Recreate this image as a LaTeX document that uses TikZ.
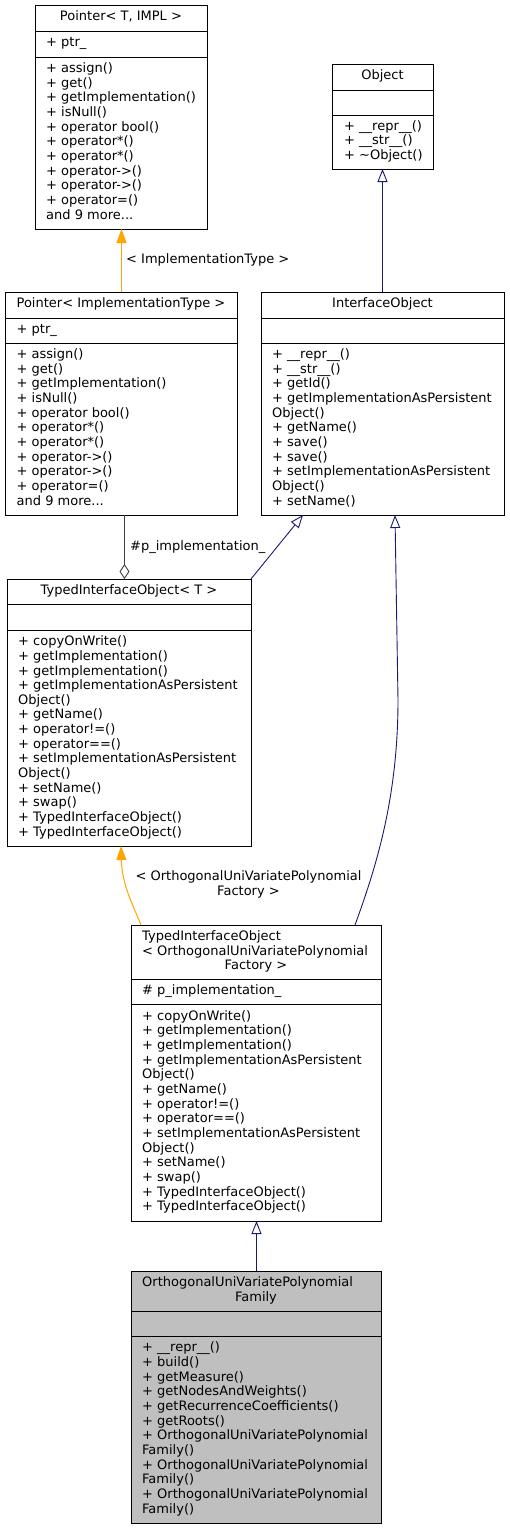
\documentclass[tikz,border=0pt]{standalone}
\usepackage{fontspec}
\setmainfont{DejaVu Sans}
\usetikzlibrary{arrows.meta}
\definecolor{edgeblue}{HTML}{191970}
\definecolor{edgeorange}{HTML}{FFA500}
\definecolor{edgegrey}{HTML}{404040}
\definecolor{boxgrey}{HTML}{BFBFBF}
\begin{document}
\begin{tikzpicture}[x=1pt,y=-1pt,
  box/.style={draw=black, line width=0.9pt, fill=white, rectangle, inner sep=0pt, outer sep=0pt, anchor=north west},
  sep/.style={draw=black, line width=0.9pt},
  tl/.style={inner sep=0pt, align=left, anchor=west},
  tc/.style={inner sep=0pt, align=center, anchor=center},
  inh/.style={draw=edgeblue, line width=0.9pt, -{Triangle[open, length=13pt, width=10pt, fill=white]}},
  tmpl/.style={draw=edgeorange, line width=1pt, -{Triangle[length=14pt, width=10pt]}},
  agg/.style={draw=edgegrey, line width=0.9pt, -{Diamond[open, length=15pt, width=10pt, fill=white]}},
  lab/.style={inner sep=0pt},
  font=\fontsize{13}{14.65}\selectfont]
\useasboundingbox (0,0) rectangle (509,1529);

% ---------- A: Pointer< T, IMPL >
\node[box, minimum width=172pt, minimum height=224pt] (A) at (35,5) {};
\draw[sep] (A.north west) ++(0,26) -- ++(172,0);
\draw[sep] (A.north west) ++(0,52) -- ++(172,0);
\node[tc] (At) at (121,18) {\strut Pointer< T, IMPL >};
\node[tl] (Aa) at (46,44) {\strut + ptr\_};
\node[tl] (Am) at (46,143) {\strut + assign()\\\strut + get()\\\strut + getImplementation()\\\strut + isNull()\\\strut + operator bool()\\\strut + operator*()\\\strut + operator*()\\\strut + operator->()\\\strut + operator->()\\\strut + operator=()\\\strut and 9 more...};

% ---------- B: Object
\node[box, minimum width=101pt, minimum height=105pt] (B) at (332,64) {};
\draw[sep] (B.north west) ++(0,26) -- ++(101,0);
\draw[sep] (B.north west) ++(0,51) -- ++(101,0);
\node[tc] (Bt) at (382.5,77) {\strut Object};
\node[tl] (Bm) at (344,142) {\strut + \_\_repr\_\_()\\\strut + \_\_str\_\_()\\\strut + \textasciitilde Object()};

% ---------- C: Pointer< ImplementationType >
\node[box, minimum width=232pt, minimum height=223pt] (C) at (5,292) {};
\draw[sep] (C.north west) ++(0,26) -- ++(232,0);
\draw[sep] (C.north west) ++(0,51) -- ++(232,0);
\node[tc] (Ct) at (121,305) {\strut Pointer< ImplementationType >};
\node[tl] (Ca) at (16.5,330.5) {\strut + ptr\_};
\node[tl] (Cm) at (16.5,429) {\strut + assign()\\\strut + get()\\\strut + getImplementation()\\\strut + isNull()\\\strut + operator bool()\\\strut + operator*()\\\strut + operator*()\\\strut + operator->()\\\strut + operator->()\\\strut + operator=()\\\strut and 9 more...};

% ---------- D: InterfaceObject
\node[box, minimum width=243pt, minimum height=223pt] (D) at (261,292) {};
\draw[sep] (D.north west) ++(0,26) -- ++(243,0);
\draw[sep] (D.north west) ++(0,51) -- ++(243,0);
\node[tc] (Dt) at (382.5,305) {\strut InterfaceObject};
\node[tl] (Dm) at (272,429) {\strut + \_\_repr\_\_()\\\strut + \_\_str\_\_()\\\strut + getId()\\\strut + getImplementationAsPersistent\\\strut Object()\\\strut + getName()\\\strut + save()\\\strut + save()\\\strut + setImplementationAsPersistent\\\strut Object()\\\strut + setName()};

% ---------- E: TypedInterfaceObject< T >
\node[box, minimum width=244pt, minimum height=267pt] (E) at (7,579) {};
\draw[sep] (E.north west) ++(0,25) -- ++(244,0);
\draw[sep] (E.north west) ++(0,51) -- ++(244,0);
\node[tc] (Et) at (129,591.5) {\strut TypedInterfaceObject< T >};
\node[tl] (Em) at (18,738) {\strut + copyOnWrite()\\\strut + getImplementation()\\\strut + getImplementation()\\\strut + getImplementationAsPersistent\\\strut Object()\\\strut + getName()\\\strut + operator!=()\\\strut + operator==()\\\strut + setImplementationAsPersistent\\\strut Object()\\\strut + setName()\\\strut + swap()\\\strut + TypedInterfaceObject()\\\strut + TypedInterfaceObject()};

% ---------- F: TypedInterfaceObject< OrthogonalUniVariatePolynomialFactory >
\node[box, minimum width=250pt, minimum height=296pt] (F) at (131,925) {};
\draw[sep] (F.north west) ++(0,54) -- ++(250,0);
\draw[sep] (F.north west) ++(0,79) -- ++(250,0);
\node[tl, anchor=north west] (Ft) at (142,930) {\strut TypedInterfaceObject\\\strut < OrthogonalUniVariatePolynomial};
\node[tc, anchor=north] (Ft2) at (256,959.3) {\strut Factory >};
\node[tl] (Fa) at (142,991.5) {\strut \# p\_implementation\_};
\node[tl] (Fm) at (142,1112.5) {\strut + copyOnWrite()\\\strut + getImplementation()\\\strut + getImplementation()\\\strut + getImplementationAsPersistent\\\strut Object()\\\strut + getName()\\\strut + operator!=()\\\strut + operator==()\\\strut + setImplementationAsPersistent\\\strut Object()\\\strut + setName()\\\strut + swap()\\\strut + TypedInterfaceObject()\\\strut + TypedInterfaceObject()};

% ---------- G: OrthogonalUniVariatePolynomialFamily
\node[box, fill=boxgrey, minimum width=250pt, minimum height=252pt] (G) at (131,1271) {};
\draw[sep] (G.north west) ++(0,40) -- ++(250,0);
\draw[sep] (G.north west) ++(0,65) -- ++(250,0);
\node[tl, anchor=north west] (Gt) at (142,1276.35) {\strut OrthogonalUniVariatePolynomial};
\node[tc, anchor=north] (Gt2) at (256,1291) {\strut Family};
\node[tl] (Gm) at (142,1429.5) {\strut + \_\_repr\_\_()\\\strut + build()\\\strut + getMeasure()\\\strut + getNodesAndWeights()\\\strut + getRecurrenceCoefficients()\\\strut + getRoots()\\\strut + OrthogonalUniVariatePolynomial\\\strut Family()\\\strut + OrthogonalUniVariatePolynomial\\\strut Family()\\\strut + OrthogonalUniVariatePolynomial\\\strut Family()};

% ---------- connectors
\draw[tmpl] ([xshift=0.5pt]C.north) -- ([xshift=0.5pt]A.south);
\node[lab, anchor=base west] (lA) at (126,263) {< ImplementationType >};

\draw[inh] (D.north) -- (B.south);

\draw[agg] ([xshift=119.5pt]C.south west) -- ([xshift=117.5pt]E.north west);
\node[lab, anchor=base west] (lC) at (130,550) {\#p\_implementation\_};

\draw[inh] (E.north east) -- ([xshift=42pt]D.south west);

\draw[tmpl] ([xshift=10pt]F.north west) .. controls (133,905) and (122,885) .. ([xshift=114pt]E.south west);
\node[tc] (lF) at (248.5,885) {\strut < OrthogonalUniVariatePolynomial\\\strut Factory >};

\draw[inh] ([xshift=224pt]F.north west) .. controls (375,870) and (398,800) .. (398,700) -- ([xshift=134pt]D.south west);

\draw[inh] ([xshift=0.5pt]G.north) -- ([xshift=0.5pt]F.south);
\end{tikzpicture}
\end{document}
